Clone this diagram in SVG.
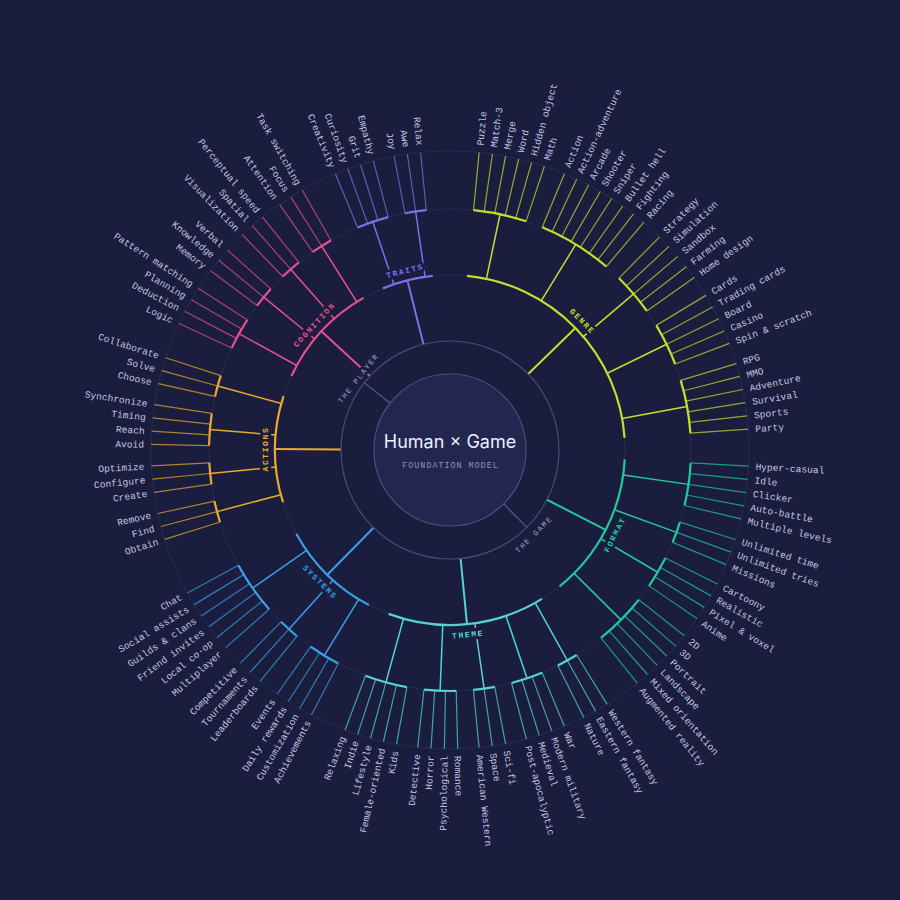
<svg xmlns="http://www.w3.org/2000/svg" xmlns:xlink="http://www.w3.org/1999/xlink" width="900" height="900" viewBox="0 0 900 900">
<style>
text{font-family:"Liberation Mono","DejaVu Sans Mono",monospace}
text.title{font-family:Inter,"Noto Sans","Liberation Sans",sans-serif;font-size:18px;fill:#eef0ff;text-anchor:middle}
text.sub{font-size:8.4px;letter-spacing:1px;fill:#9294b8;text-anchor:middle}
.lb{font-size:9.6px;fill:#c3c5e0}
.e{text-anchor:end}
.ring{fill:none;stroke:#282b54;stroke-width:1}
.arc{fill:none;stroke-width:2.2}
.gc{stroke-width:1.5}
.cc{stroke-width:2}
.lf{stroke-width:1.2;stroke-opacity:.72}
.genre{stroke:#c8dc2e}
.format{stroke:#20c99a}
.theme{stroke:#55d2d6}
.systems{stroke:#3a9fe6}
.actions{stroke:#e9a92e}
.cognition{stroke:#e4508e}
.traits{stroke:#7d70e6}
.root{stroke:#4c4f7c;stroke-width:1.5}
text.cat{font-size:8px;font-weight:bold;letter-spacing:1.6px;text-anchor:middle;stroke:#1b1d3e;stroke-width:6px;paint-order:stroke;stroke-linejoin:round}
text.inner{font-size:7.5px;letter-spacing:1.6px;text-anchor:middle;fill:#a2a4c2;stroke:#1b1d3e;stroke-width:5px;paint-order:stroke;stroke-linejoin:round}
</style>
<defs>
<line id="lf" x1="450" y1="209" x2="450" y2="151"/>
<line id="gcl" x1="450" y1="275" x2="450" y2="209"/>
<line id="ccl" x1="450" y1="341" x2="450" y2="275"/>
<line id="rcl" x1="450" y1="374" x2="450" y2="341"/>
<circle id="a241" cx="450" cy="450" r="241" fill="none" pathLength="360"/>
<circle id="a175" cx="450" cy="450" r="175" fill="none" pathLength="360"/>
</defs>
<rect width="900" height="900" fill="#1b1d3e"/>
<g id="guides">
<circle class="ring" cx="450" cy="450" r="175"/>
<circle class="ring" cx="450" cy="450" r="241"/>
<circle class="ring" cx="450" cy="450" r="299"/>
</g>
<g id="connectors">
<g class="root">
<use href="#rcl" transform="rotate(135.16 450 450)"/>
<use href="#rcl" transform="rotate(308.1 450 450)"/>
</g>
<g class="cc">
<use href="#ccl" class="genre" transform="rotate(45.8 450 450)"/>
<use href="#ccl" class="format" transform="rotate(117.15 450 450)"/>
<use href="#ccl" class="theme" transform="rotate(174.42 450 450)"/>
<use href="#ccl" class="systems" transform="rotate(224.52 450 450)"/>
<use href="#ccl" class="actions" transform="rotate(270.29 450 450)"/>
<use href="#ccl" class="cognition" transform="rotate(312.71 450 450)"/>
<use href="#ccl" class="traits" transform="rotate(345.91 450 450)"/>
</g>
<g class="gc genre">
<use href="#gcl" transform="rotate(12 450 450)"/><use href="#gcl" transform="rotate(31.46 450 450)"/><use href="#gcl" transform="rotate(49.64 450 450)"/><use href="#gcl" transform="rotate(63.98 450 450)"/><use href="#gcl" transform="rotate(79.6 450 450)"/>
</g>
<g class="gc format">
<use href="#gcl" transform="rotate(98.2 450 450)"/><use href="#gcl" transform="rotate(109.98 450 450)"/><use href="#gcl" transform="rotate(120.48 450 450)"/><use href="#gcl" transform="rotate(134.82 450 450)"/>
</g>
<g class="gc theme">
<use href="#gcl" transform="rotate(150.86 450 450)"/><use href="#gcl" transform="rotate(161.36 450 450)"/><use href="#gcl" transform="rotate(171.86 450 450)"/><use href="#gcl" transform="rotate(182.36 450 450)"/><use href="#gcl" transform="rotate(195.42 450 450)"/>
</g>
<g class="gc systems">
<use href="#gcl" transform="rotate(211.46 450 450)"/><use href="#gcl" transform="rotate(221.96 450 450)"/><use href="#gcl" transform="rotate(235.02 450 450)"/>
</g>
<g class="gc actions">
<use href="#gcl" transform="rotate(255.18 450 450)"/><use href="#gcl" transform="rotate(264.4 450 450)"/><use href="#gcl" transform="rotate(274.9 450 450)"/><use href="#gcl" transform="rotate(285.4 450 450)"/>
</g>
<g class="gc cognition">
<use href="#gcl" transform="rotate(298.88 450 450)"/><use href="#gcl" transform="rotate(309.38 450 450)"/><use href="#gcl" transform="rotate(318.6 450 450)"/><use href="#gcl" transform="rotate(327.82 450 450)"/>
</g>
<g class="gc traits">
<use href="#gcl" transform="rotate(341.3 450 450)"/><use href="#gcl" transform="rotate(351.8 450 450)"/>
</g>
<g class="lf genre">
<use href="#lf" transform="rotate(5.6 450 450)"/><use href="#lf" transform="rotate(8.16 450 450)"/><use href="#lf" transform="rotate(10.72 450 450)"/><use href="#lf" transform="rotate(13.28 450 450)"/><use href="#lf" transform="rotate(15.84 450 450)"/><use href="#lf" transform="rotate(18.4 450 450)"/>
<use href="#lf" transform="rotate(22.5 450 450)"/><use href="#lf" transform="rotate(25.06 450 450)"/><use href="#lf" transform="rotate(27.62 450 450)"/><use href="#lf" transform="rotate(30.18 450 450)"/><use href="#lf" transform="rotate(32.74 450 450)"/><use href="#lf" transform="rotate(35.3 450 450)"/><use href="#lf" transform="rotate(37.86 450 450)"/><use href="#lf" transform="rotate(40.42 450 450)"/>
<use href="#lf" transform="rotate(44.52 450 450)"/><use href="#lf" transform="rotate(47.08 450 450)"/><use href="#lf" transform="rotate(49.64 450 450)"/><use href="#lf" transform="rotate(52.2 450 450)"/><use href="#lf" transform="rotate(54.76 450 450)"/>
<use href="#lf" transform="rotate(58.86 450 450)"/><use href="#lf" transform="rotate(61.42 450 450)"/><use href="#lf" transform="rotate(63.98 450 450)"/><use href="#lf" transform="rotate(66.54 450 450)"/><use href="#lf" transform="rotate(69.1 450 450)"/>
<use href="#lf" transform="rotate(73.2 450 450)"/><use href="#lf" transform="rotate(75.76 450 450)"/><use href="#lf" transform="rotate(78.32 450 450)"/><use href="#lf" transform="rotate(80.88 450 450)"/><use href="#lf" transform="rotate(83.44 450 450)"/><use href="#lf" transform="rotate(86 450 450)"/>
</g>
<g class="lf format">
<use href="#lf" transform="rotate(93.08 450 450)"/><use href="#lf" transform="rotate(95.64 450 450)"/><use href="#lf" transform="rotate(98.2 450 450)"/><use href="#lf" transform="rotate(100.76 450 450)"/><use href="#lf" transform="rotate(103.32 450 450)"/>
<use href="#lf" transform="rotate(107.42 450 450)"/><use href="#lf" transform="rotate(109.98 450 450)"/><use href="#lf" transform="rotate(112.54 450 450)"/>
<use href="#lf" transform="rotate(116.64 450 450)"/><use href="#lf" transform="rotate(119.2 450 450)"/><use href="#lf" transform="rotate(121.76 450 450)"/><use href="#lf" transform="rotate(124.32 450 450)"/>
<use href="#lf" transform="rotate(128.42 450 450)"/><use href="#lf" transform="rotate(130.98 450 450)"/><use href="#lf" transform="rotate(133.54 450 450)"/><use href="#lf" transform="rotate(136.1 450 450)"/><use href="#lf" transform="rotate(138.66 450 450)"/><use href="#lf" transform="rotate(141.22 450 450)"/>
</g>
<g class="lf theme">
<use href="#lf" transform="rotate(148.3 450 450)"/><use href="#lf" transform="rotate(150.86 450 450)"/><use href="#lf" transform="rotate(153.42 450 450)"/>
<use href="#lf" transform="rotate(157.52 450 450)"/><use href="#lf" transform="rotate(160.08 450 450)"/><use href="#lf" transform="rotate(162.64 450 450)"/><use href="#lf" transform="rotate(165.2 450 450)"/>
<use href="#lf" transform="rotate(169.3 450 450)"/><use href="#lf" transform="rotate(171.86 450 450)"/><use href="#lf" transform="rotate(174.42 450 450)"/>
<use href="#lf" transform="rotate(178.52 450 450)"/><use href="#lf" transform="rotate(181.08 450 450)"/><use href="#lf" transform="rotate(183.64 450 450)"/><use href="#lf" transform="rotate(186.2 450 450)"/>
<use href="#lf" transform="rotate(190.3 450 450)"/><use href="#lf" transform="rotate(192.86 450 450)"/><use href="#lf" transform="rotate(195.42 450 450)"/><use href="#lf" transform="rotate(197.98 450 450)"/><use href="#lf" transform="rotate(200.54 450 450)"/>
</g>
<g class="lf systems">
<use href="#lf" transform="rotate(207.62 450 450)"/><use href="#lf" transform="rotate(210.18 450 450)"/><use href="#lf" transform="rotate(212.74 450 450)"/><use href="#lf" transform="rotate(215.3 450 450)"/>
<use href="#lf" transform="rotate(219.4 450 450)"/><use href="#lf" transform="rotate(221.96 450 450)"/><use href="#lf" transform="rotate(224.52 450 450)"/>
<use href="#lf" transform="rotate(228.62 450 450)"/><use href="#lf" transform="rotate(231.18 450 450)"/><use href="#lf" transform="rotate(233.74 450 450)"/><use href="#lf" transform="rotate(236.3 450 450)"/><use href="#lf" transform="rotate(238.86 450 450)"/><use href="#lf" transform="rotate(241.42 450 450)"/>
</g>
<g class="lf actions">
<use href="#lf" transform="rotate(252.62 450 450)"/><use href="#lf" transform="rotate(255.18 450 450)"/><use href="#lf" transform="rotate(257.74 450 450)"/>
<use href="#lf" transform="rotate(261.84 450 450)"/><use href="#lf" transform="rotate(264.4 450 450)"/><use href="#lf" transform="rotate(266.96 450 450)"/>
<use href="#lf" transform="rotate(271.06 450 450)"/><use href="#lf" transform="rotate(273.62 450 450)"/><use href="#lf" transform="rotate(276.18 450 450)"/><use href="#lf" transform="rotate(278.74 450 450)"/>
<use href="#lf" transform="rotate(282.84 450 450)"/><use href="#lf" transform="rotate(285.4 450 450)"/><use href="#lf" transform="rotate(287.96 450 450)"/>
</g>
<g class="lf cognition">
<use href="#lf" transform="rotate(295.04 450 450)"/><use href="#lf" transform="rotate(297.6 450 450)"/><use href="#lf" transform="rotate(300.16 450 450)"/><use href="#lf" transform="rotate(302.72 450 450)"/>
<use href="#lf" transform="rotate(306.82 450 450)"/><use href="#lf" transform="rotate(309.38 450 450)"/><use href="#lf" transform="rotate(311.94 450 450)"/>
<use href="#lf" transform="rotate(316.04 450 450)"/><use href="#lf" transform="rotate(318.6 450 450)"/><use href="#lf" transform="rotate(321.16 450 450)"/>
<use href="#lf" transform="rotate(325.26 450 450)"/><use href="#lf" transform="rotate(327.82 450 450)"/><use href="#lf" transform="rotate(330.38 450 450)"/>
</g>
<g class="lf traits">
<use href="#lf" transform="rotate(337.46 450 450)"/><use href="#lf" transform="rotate(340.02 450 450)"/><use href="#lf" transform="rotate(342.58 450 450)"/><use href="#lf" transform="rotate(345.14 450 450)"/>
<use href="#lf" transform="rotate(349.24 450 450)"/><use href="#lf" transform="rotate(351.8 450 450)"/><use href="#lf" transform="rotate(354.36 450 450)"/>
</g>
</g>

<g id="center">
<circle cx="450" cy="450" r="109" fill="none" stroke="#4a4d78" stroke-width="1.2"/>
<circle cx="450" cy="450" r="76" fill="#23264f" stroke="#4c4f7c" stroke-width="1.2"/>
<text class="title" x="450" y="447.5">Human × Game</text>
<text class="sub" x="450.5" y="467.8">FOUNDATION MODEL</text>
</g>
<g id="the-player"><text class="inner" transform="rotate(308.1 450 450)" x="450" y="336">THE PLAYER</text></g>
<g id="the-game"><text class="inner" transform="rotate(-44.84 450 450)" x="450" y="571.5">THE GAME</text></g>

<g id="genre">
<use href="#a175" class="arc genre" style="stroke-dasharray:80.4 400" transform="rotate(-84.4 450 450)"/>
<g id="genre-g1"><use href="#a241" class="arc genre" style="stroke-dasharray:12.8 400" transform="rotate(-84.4 450 450)"/></g>
<g id="genre-g2"><use href="#a241" class="arc genre" style="stroke-dasharray:17.92 400" transform="rotate(-67.5 450 450)"/></g>
<g id="genre-g3"><use href="#a241" class="arc genre" style="stroke-dasharray:10.24 400" transform="rotate(-45.48 450 450)"/></g>
<g id="genre-g4"><use href="#a241" class="arc genre" style="stroke-dasharray:10.24 400" transform="rotate(-31.14 450 450)"/></g>
<g id="genre-g5"><use href="#a241" class="arc genre" style="stroke-dasharray:12.8 400" transform="rotate(-16.8 450 450)"/></g>
<text class="cat" fill="#c8dc2e" transform="rotate(45.8 450 450)" x="450" y="268">GENRE</text>
</g>
<g id="format">
<use href="#a175" class="arc format" style="stroke-dasharray:48.14 400" transform="rotate(3.08 450 450)"/>
<g id="format-g1"><use href="#a241" class="arc format" style="stroke-dasharray:10.24 400" transform="rotate(3.08 450 450)"/></g>
<g id="format-g2"><use href="#a241" class="arc format" style="stroke-dasharray:5.12 400" transform="rotate(17.42 450 450)"/></g>
<g id="format-g3"><use href="#a241" class="arc format" style="stroke-dasharray:7.68 400" transform="rotate(26.64 450 450)"/></g>
<g id="format-g4"><use href="#a241" class="arc format" style="stroke-dasharray:12.8 400" transform="rotate(38.42 450 450)"/></g>
<text class="cat" fill="#20c99a" transform="rotate(-62.85 450 450)" x="450" y="638">FORMAT</text>
</g>
<g id="theme">
<use href="#a175" class="arc theme" style="stroke-dasharray:52.24 400" transform="rotate(58.3 450 450)"/>
<g id="theme-g1"><use href="#a241" class="arc theme" style="stroke-dasharray:5.12 400" transform="rotate(58.3 450 450)"/></g>
<g id="theme-g2"><use href="#a241" class="arc theme" style="stroke-dasharray:7.68 400" transform="rotate(67.52 450 450)"/></g>
<g id="theme-g3"><use href="#a241" class="arc theme" style="stroke-dasharray:5.12 400" transform="rotate(79.3 450 450)"/></g>
<g id="theme-g4"><use href="#a241" class="arc theme" style="stroke-dasharray:7.68 400" transform="rotate(88.52 450 450)"/></g>
<g id="theme-g5"><use href="#a241" class="arc theme" style="stroke-dasharray:10.24 400" transform="rotate(100.3 450 450)"/></g>
<text class="cat" fill="#55d2d6" transform="rotate(-5.58 450 450)" x="450" y="638">THEME</text>
</g>
<g id="systems">
<use href="#a175" class="arc systems" style="stroke-dasharray:33.8 400" transform="rotate(117.62 450 450)"/>
<g id="systems-g1"><use href="#a241" class="arc systems" style="stroke-dasharray:7.68 400" transform="rotate(117.62 450 450)"/></g>
<g id="systems-g2"><use href="#a241" class="arc systems" style="stroke-dasharray:5.12 400" transform="rotate(129.4 450 450)"/></g>
<g id="systems-g3"><use href="#a241" class="arc systems" style="stroke-dasharray:12.8 400" transform="rotate(138.62 450 450)"/></g>
<text class="cat" fill="#3a9fe6" transform="rotate(44.52 450 450)" x="450" y="638">SYSTEMS</text>
</g>
<g id="actions">
<use href="#a175" class="arc actions" style="stroke-dasharray:35.34 400" transform="rotate(162.62 450 450)"/>
<g id="actions-g1"><use href="#a241" class="arc actions" style="stroke-dasharray:5.12 400" transform="rotate(162.62 450 450)"/></g>
<g id="actions-g2"><use href="#a241" class="arc actions" style="stroke-dasharray:5.12 400" transform="rotate(171.84 450 450)"/></g>
<g id="actions-g3"><use href="#a241" class="arc actions" style="stroke-dasharray:7.68 400" transform="rotate(181.06 450 450)"/></g>
<g id="actions-g4"><use href="#a241" class="arc actions" style="stroke-dasharray:5.12 400" transform="rotate(192.84 450 450)"/></g>
<text class="cat" fill="#e9a92e" transform="rotate(-89.71 450 450)" x="450" y="268">ACTIONS</text>
</g>
<g id="cognition">
<use href="#a175" class="arc cognition" style="stroke-dasharray:35.34 400" transform="rotate(205.04 450 450)"/>
<g id="cognition-g1"><use href="#a241" class="arc cognition" style="stroke-dasharray:7.68 400" transform="rotate(205.04 450 450)"/></g>
<g id="cognition-g2"><use href="#a241" class="arc cognition" style="stroke-dasharray:5.12 400" transform="rotate(216.82 450 450)"/></g>
<g id="cognition-g3"><use href="#a241" class="arc cognition" style="stroke-dasharray:5.12 400" transform="rotate(226.04 450 450)"/></g>
<g id="cognition-g4"><use href="#a241" class="arc cognition" style="stroke-dasharray:5.12 400" transform="rotate(235.26 450 450)"/></g>
<text class="cat" fill="#e4508e" transform="rotate(-47.29 450 450)" x="450" y="268">COGNITION</text>
</g>
<g id="traits">
<use href="#a175" class="arc traits" style="stroke-dasharray:16.9 400" transform="rotate(247.46 450 450)"/>
<g id="traits-g1"><use href="#a241" class="arc traits" style="stroke-dasharray:7.68 400" transform="rotate(247.46 450 450)"/></g>
<g id="traits-g2"><use href="#a241" class="arc traits" style="stroke-dasharray:5.12 400" transform="rotate(259.24 450 450)"/></g>
<text class="cat" fill="#7d70e6" transform="rotate(-14.09 450 450)" x="450" y="268">TRAITS</text>
</g>

<g id="leaves">
<g id="l-puzzle"><text class="lb" transform="rotate(-84.4 450 450)" x="756" y="453.4">Puzzle</text></g>
<g id="l-match3"><text class="lb" transform="rotate(-81.84 450 450)" x="756" y="453.4">Match-3</text></g>
<g id="l-merge"><text class="lb" transform="rotate(-79.28 450 450)" x="756" y="453.4">Merge</text></g>
<g id="l-word"><text class="lb" transform="rotate(-76.72 450 450)" x="756" y="453.4">Word</text></g>
<g id="l-hidden-object"><text class="lb" transform="rotate(-74.16 450 450)" x="756" y="453.4">Hidden object</text></g>
<g id="l-math"><text class="lb" transform="rotate(-71.6 450 450)" x="756" y="453.4">Math</text></g>
<g id="l-action"><text class="lb" transform="rotate(-67.5 450 450)" x="756" y="453.4">Action</text></g>
<g id="l-action-adventure"><text class="lb" transform="rotate(-64.94 450 450)" x="756" y="453.4">Action-adventure</text></g>
<g id="l-arcade"><text class="lb" transform="rotate(-62.38 450 450)" x="756" y="453.4">Arcade</text></g>
<g id="l-shooter"><text class="lb" transform="rotate(-59.82 450 450)" x="756" y="453.4">Shooter</text></g>
<g id="l-sniper"><text class="lb" transform="rotate(-57.26 450 450)" x="756" y="453.4">Sniper</text></g>
<g id="l-bullet-hell"><text class="lb" transform="rotate(-54.7 450 450)" x="756" y="453.4">Bullet hell</text></g>
<g id="l-fighting"><text class="lb" transform="rotate(-52.14 450 450)" x="756" y="453.4">Fighting</text></g>
<g id="l-racing"><text class="lb" transform="rotate(-49.58 450 450)" x="756" y="453.4">Racing</text></g>
<g id="l-strategy"><text class="lb" transform="rotate(-45.48 450 450)" x="756" y="453.4">Strategy</text></g>
<g id="l-simulation"><text class="lb" transform="rotate(-42.92 450 450)" x="756" y="453.4">Simulation</text></g>
<g id="l-sandbox"><text class="lb" transform="rotate(-40.36 450 450)" x="756" y="453.4">Sandbox</text></g>
<g id="l-farming"><text class="lb" transform="rotate(-37.8 450 450)" x="756" y="453.4">Farming</text></g>
<g id="l-home-design"><text class="lb" transform="rotate(-35.24 450 450)" x="756" y="453.4">Home design</text></g>
<g id="l-cards"><text class="lb" transform="rotate(-31.14 450 450)" x="756" y="453.4">Cards</text></g>
<g id="l-trading-cards"><text class="lb" transform="rotate(-28.58 450 450)" x="756" y="453.4">Trading cards</text></g>
<g id="l-board"><text class="lb" transform="rotate(-26.02 450 450)" x="756" y="453.4">Board</text></g>
<g id="l-casino"><text class="lb" transform="rotate(-23.46 450 450)" x="756" y="453.4">Casino</text></g>
<g id="l-spin-scratch"><text class="lb" transform="rotate(-20.9 450 450)" x="756" y="453.4">Spin &amp; scratch</text></g>
<g id="l-rpg"><text class="lb" transform="rotate(-16.8 450 450)" x="756" y="453.4">RPG</text></g>
<g id="l-mmo"><text class="lb" transform="rotate(-14.24 450 450)" x="756" y="453.4">MMO</text></g>
<g id="l-adventure"><text class="lb" transform="rotate(-11.68 450 450)" x="756" y="453.4">Adventure</text></g>
<g id="l-survival"><text class="lb" transform="rotate(-9.12 450 450)" x="756" y="453.4">Survival</text></g>
<g id="l-sports"><text class="lb" transform="rotate(-6.56 450 450)" x="756" y="453.4">Sports</text></g>
<g id="l-party"><text class="lb" transform="rotate(-4 450 450)" x="756" y="453.4">Party</text></g>
<g id="l-hyper-casual"><text class="lb" transform="rotate(3.08 450 450)" x="756" y="453.4">Hyper-casual</text></g>
<g id="l-idle"><text class="lb" transform="rotate(5.64 450 450)" x="756" y="453.4">Idle</text></g>
<g id="l-clicker"><text class="lb" transform="rotate(8.2 450 450)" x="756" y="453.4">Clicker</text></g>
<g id="l-auto-battle"><text class="lb" transform="rotate(10.76 450 450)" x="756" y="453.4">Auto-battle</text></g>
<g id="l-multiple-levels"><text class="lb" transform="rotate(13.32 450 450)" x="756" y="453.4">Multiple levels</text></g>
<g id="l-unlimited-time"><text class="lb" transform="rotate(17.42 450 450)" x="756" y="453.4">Unlimited time</text></g>
<g id="l-unlimited-tries"><text class="lb" transform="rotate(19.98 450 450)" x="756" y="453.4">Unlimited tries</text></g>
<g id="l-missions"><text class="lb" transform="rotate(22.54 450 450)" x="756" y="453.4">Missions</text></g>
<g id="l-cartoony"><text class="lb" transform="rotate(26.64 450 450)" x="756" y="453.4">Cartoony</text></g>
<g id="l-realistic"><text class="lb" transform="rotate(29.2 450 450)" x="756" y="453.4">Realistic</text></g>
<g id="l-pixel-voxel"><text class="lb" transform="rotate(31.76 450 450)" x="756" y="453.4">Pixel &amp; voxel</text></g>
<g id="l-anime"><text class="lb" transform="rotate(34.32 450 450)" x="756" y="453.4">Anime</text></g>
<g id="l-2d"><text class="lb" transform="rotate(38.42 450 450)" x="756" y="453.4">2D</text></g>
<g id="l-3d"><text class="lb" transform="rotate(40.98 450 450)" x="756" y="453.4">3D</text></g>
<g id="l-portrait"><text class="lb" transform="rotate(43.54 450 450)" x="756" y="453.4">Portrait</text></g>
<g id="l-landscape"><text class="lb" transform="rotate(46.1 450 450)" x="756" y="453.4">Landscape</text></g>
<g id="l-mixed-orientation"><text class="lb" transform="rotate(48.66 450 450)" x="756" y="453.4">Mixed orientation</text></g>
<g id="l-augmented-reality"><text class="lb" transform="rotate(51.22 450 450)" x="756" y="453.4">Augmented reality</text></g>
<g id="l-western-fantasy"><text class="lb" transform="rotate(58.3 450 450)" x="756" y="453.4">Western fantasy</text></g>
<g id="l-eastern-fantasy"><text class="lb" transform="rotate(60.86 450 450)" x="756" y="453.4">Eastern fantasy</text></g>
<g id="l-nature"><text class="lb" transform="rotate(63.42 450 450)" x="756" y="453.4">Nature</text></g>
<g id="l-war"><text class="lb" transform="rotate(67.52 450 450)" x="756" y="453.4">War</text></g>
<g id="l-modern-military"><text class="lb" transform="rotate(70.08 450 450)" x="756" y="453.4">Modern military</text></g>
<g id="l-medieval"><text class="lb" transform="rotate(72.64 450 450)" x="756" y="453.4">Medieval</text></g>
<g id="l-post-apocalyptic"><text class="lb" transform="rotate(75.2 450 450)" x="756" y="453.4">Post-apocalyptic</text></g>
<g id="l-sci-fi"><text class="lb" transform="rotate(79.3 450 450)" x="756" y="453.4">Sci-fi</text></g>
<g id="l-space"><text class="lb" transform="rotate(81.86 450 450)" x="756" y="453.4">Space</text></g>
<g id="l-american-western"><text class="lb" transform="rotate(84.42 450 450)" x="756" y="453.4">American Western</text></g>
<g id="l-romance"><text class="lb" transform="rotate(88.52 450 450)" x="756" y="453.4">Romance</text></g>
<g id="l-psychological"><text class="lb e" transform="rotate(-88.92 450 450)" x="144" y="453.4">Psychological</text></g>
<g id="l-horror"><text class="lb e" transform="rotate(-86.36 450 450)" x="144" y="453.4">Horror</text></g>
<g id="l-detective"><text class="lb e" transform="rotate(-83.8 450 450)" x="144" y="453.4">Detective</text></g>
<g id="l-kids"><text class="lb e" transform="rotate(-79.7 450 450)" x="144" y="453.4">Kids</text></g>
<g id="l-female-oriented"><text class="lb e" transform="rotate(-77.14 450 450)" x="144" y="453.4">Female-oriented</text></g>
<g id="l-lifestyle"><text class="lb e" transform="rotate(-74.58 450 450)" x="144" y="453.4">Lifestyle</text></g>
<g id="l-indie"><text class="lb e" transform="rotate(-72.02 450 450)" x="144" y="453.4">Indie</text></g>
<g id="l-relaxing"><text class="lb e" transform="rotate(-69.46 450 450)" x="144" y="453.4">Relaxing</text></g>
<g id="l-achievements"><text class="lb e" transform="rotate(-62.38 450 450)" x="144" y="453.4">Achievements</text></g>
<g id="l-customization"><text class="lb e" transform="rotate(-59.82 450 450)" x="144" y="453.4">Customization</text></g>
<g id="l-daily-rewards"><text class="lb e" transform="rotate(-57.26 450 450)" x="144" y="453.4">Daily rewards</text></g>
<g id="l-events"><text class="lb e" transform="rotate(-54.7 450 450)" x="144" y="453.4">Events</text></g>
<g id="l-leaderboards"><text class="lb e" transform="rotate(-50.6 450 450)" x="144" y="453.4">Leaderboards</text></g>
<g id="l-tournaments"><text class="lb e" transform="rotate(-48.04 450 450)" x="144" y="453.4">Tournaments</text></g>
<g id="l-competitive"><text class="lb e" transform="rotate(-45.48 450 450)" x="144" y="453.4">Competitive</text></g>
<g id="l-multiplayer"><text class="lb e" transform="rotate(-41.38 450 450)" x="144" y="453.4">Multiplayer</text></g>
<g id="l-local-co-op"><text class="lb e" transform="rotate(-38.82 450 450)" x="144" y="453.4">Local co-op</text></g>
<g id="l-friend-invites"><text class="lb e" transform="rotate(-36.26 450 450)" x="144" y="453.4">Friend invites</text></g>
<g id="l-guilds-clans"><text class="lb e" transform="rotate(-33.7 450 450)" x="144" y="453.4">Guilds &amp; clans</text></g>
<g id="l-social-assists"><text class="lb e" transform="rotate(-31.14 450 450)" x="144" y="453.4">Social assists</text></g>
<g id="l-chat"><text class="lb e" transform="rotate(-28.58 450 450)" x="144" y="453.4">Chat</text></g>
<g id="l-obtain"><text class="lb e" transform="rotate(-17.38 450 450)" x="144" y="453.4">Obtain</text></g>
<g id="l-find"><text class="lb e" transform="rotate(-14.82 450 450)" x="144" y="453.4">Find</text></g>
<g id="l-remove"><text class="lb e" transform="rotate(-12.26 450 450)" x="144" y="453.4">Remove</text></g>
<g id="l-create"><text class="lb e" transform="rotate(-8.16 450 450)" x="144" y="453.4">Create</text></g>
<g id="l-configure"><text class="lb e" transform="rotate(-5.6 450 450)" x="144" y="453.4">Configure</text></g>
<g id="l-optimize"><text class="lb e" transform="rotate(-3.04 450 450)" x="144" y="453.4">Optimize</text></g>
<g id="l-avoid"><text class="lb e" transform="rotate(1.06 450 450)" x="144" y="453.4">Avoid</text></g>
<g id="l-reach"><text class="lb e" transform="rotate(3.62 450 450)" x="144" y="453.4">Reach</text></g>
<g id="l-timing"><text class="lb e" transform="rotate(6.18 450 450)" x="144" y="453.4">Timing</text></g>
<g id="l-synchronize"><text class="lb e" transform="rotate(8.74 450 450)" x="144" y="453.4">Synchronize</text></g>
<g id="l-choose"><text class="lb e" transform="rotate(12.84 450 450)" x="144" y="453.4">Choose</text></g>
<g id="l-solve"><text class="lb e" transform="rotate(15.4 450 450)" x="144" y="453.4">Solve</text></g>
<g id="l-collaborate"><text class="lb e" transform="rotate(17.96 450 450)" x="144" y="453.4">Collaborate</text></g>
<g id="l-logic"><text class="lb e" transform="rotate(25.04 450 450)" x="144" y="453.4">Logic</text></g>
<g id="l-deduction"><text class="lb e" transform="rotate(27.6 450 450)" x="144" y="453.4">Deduction</text></g>
<g id="l-planning"><text class="lb e" transform="rotate(30.16 450 450)" x="144" y="453.4">Planning</text></g>
<g id="l-pattern-matching"><text class="lb e" transform="rotate(32.72 450 450)" x="144" y="453.4">Pattern matching</text></g>
<g id="l-memory"><text class="lb e" transform="rotate(36.82 450 450)" x="144" y="453.4">Memory</text></g>
<g id="l-knowledge"><text class="lb e" transform="rotate(39.38 450 450)" x="144" y="453.4">Knowledge</text></g>
<g id="l-verbal"><text class="lb e" transform="rotate(41.94 450 450)" x="144" y="453.4">Verbal</text></g>
<g id="l-visualization"><text class="lb e" transform="rotate(46.04 450 450)" x="144" y="453.4">Visualization</text></g>
<g id="l-spatial"><text class="lb e" transform="rotate(48.6 450 450)" x="144" y="453.4">Spatial</text></g>
<g id="l-perceptual-speed"><text class="lb e" transform="rotate(51.16 450 450)" x="144" y="453.4">Perceptual speed</text></g>
<g id="l-attention"><text class="lb e" transform="rotate(55.26 450 450)" x="144" y="453.4">Attention</text></g>
<g id="l-focus"><text class="lb e" transform="rotate(57.82 450 450)" x="144" y="453.4">Focus</text></g>
<g id="l-task-switching"><text class="lb e" transform="rotate(60.38 450 450)" x="144" y="453.4">Task switching</text></g>
<g id="l-creativity"><text class="lb e" transform="rotate(67.46 450 450)" x="144" y="453.4">Creativity</text></g>
<g id="l-curiosity"><text class="lb e" transform="rotate(70.02 450 450)" x="144" y="453.4">Curiosity</text></g>
<g id="l-grit"><text class="lb e" transform="rotate(72.58 450 450)" x="144" y="453.4">Grit</text></g>
<g id="l-empathy"><text class="lb e" transform="rotate(75.14 450 450)" x="144" y="453.4">Empathy</text></g>
<g id="l-joy"><text class="lb e" transform="rotate(79.24 450 450)" x="144" y="453.4">Joy</text></g>
<g id="l-awe"><text class="lb e" transform="rotate(81.8 450 450)" x="144" y="453.4">Awe</text></g>
<g id="l-relax"><text class="lb e" transform="rotate(84.36 450 450)" x="144" y="453.4">Relax</text></g>
</g>
</svg>
